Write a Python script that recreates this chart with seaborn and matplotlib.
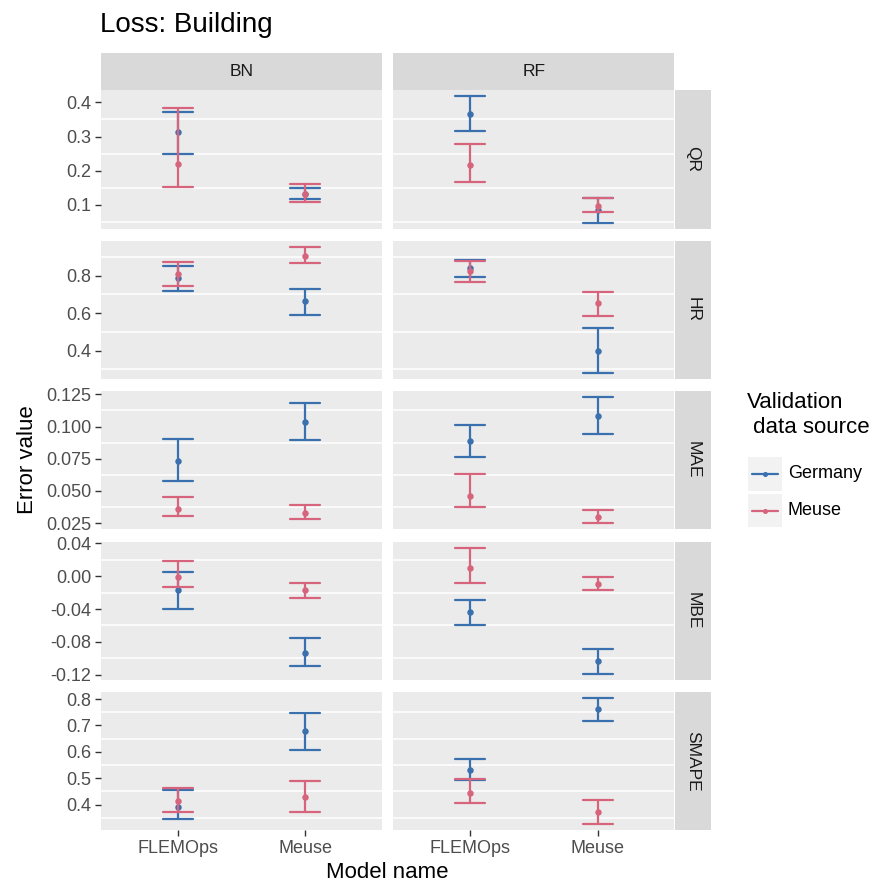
import numpy as np
import pandas as pd
import matplotlib
matplotlib.use("Agg")
import matplotlib.pyplot as plt
from matplotlib.patches import Rectangle
from matplotlib.lines import Line2D
import seaborn as sns

# ---------------- data ----------------
metrics = ["QR", "HR", "MAE", "MBE", "SMAPE"]
models = ["BN", "RF"]
model_names = ["FLEMOps", "Meuse"]
sources = ["Germany", "Meuse"]

# each row: [BN-FLEMOps, BN-Meuse, RF-FLEMOps, RF-Meuse]
germany_mid = [
    [0.312, 0.130, 0.365, 0.083],
    [0.786, 0.666, 0.841, 0.397],
    [0.0732, 0.1039, 0.0884, 0.1084],
    [-0.017, -0.0935, -0.0433, -0.104],
    [0.391, 0.678, 0.531, 0.762],
]
germany_low = [
    [0.250, 0.117, 0.316, 0.047],
    [0.718, 0.592, 0.793, 0.282],
    [0.0573, 0.0892, 0.0763, 0.0940],
    [-0.040, -0.110, -0.060, -0.119],
    [0.345, 0.606, 0.4925, 0.717],
]
germany_high = [
    [0.371, 0.150, 0.418, 0.119],
    [0.850, 0.730, 0.881, 0.520],
    [0.0905, 0.1183, 0.1013, 0.1230],
    [0.0049, -0.0757, -0.0287, -0.0887],
    [0.4566, 0.746, 0.574, 0.804],
]
meuse_mid = [
    [0.220, 0.130, 0.215, 0.096],
    [0.807, 0.902, 0.823, 0.655],
    [0.036, 0.033, 0.0462, 0.0293],
    [-0.0012, -0.017, 0.0097, -0.0093],
    [0.414, 0.431, 0.446, 0.3725],
]
meuse_low = [
    [0.151, 0.108, 0.165, 0.079],
    [0.743, 0.864, 0.767, 0.582],
    [0.0307, 0.028, 0.0372, 0.025],
    [-0.0129, -0.0262, -0.008, -0.017],
    [0.3725, 0.3725, 0.4065, 0.328],
]
meuse_high = [
    [0.383, 0.161, 0.277, 0.119],
    [0.874, 0.952, 0.876, 0.713],
    [0.0454, 0.039, 0.0634, 0.0348],
    [0.0182, -0.008, 0.0345, -0.0012],
    [0.465, 0.491, 0.499, 0.419],
]

ytick_values = [
    [0.1, 0.2, 0.3, 0.4],
    [0.4, 0.6, 0.8],
    [0.025, 0.050, 0.075, 0.100, 0.125],
    [-0.12, -0.08, -0.04, 0.00, 0.04],
    [0.4, 0.5, 0.6, 0.7, 0.8],
]
ytick_labels = [
    ["0.1", "0.2", "0.3", "0.4"],
    ["0.4", "0.6", "0.8"],
    ["0.025", "0.050", "0.075", "0.100", "0.125"],
    ["-0.12", "-0.08", "-0.04", "0.00", "0.04"],
    ["0.4", "0.5", "0.6", "0.7", "0.8"],
]

title = "Loss: Building"
xlabel = "Model name"
ylabel = "Error value"
legend_title = "Validation\n data source"
palette = {"Germany": "#3A70AE", "Meuse": "#D6647D"}

# build long table (low / mid / high rows -> median & full range)
rows = []
series = {"Germany": (germany_low, germany_mid, germany_high),
          "Meuse": (meuse_low, meuse_mid, meuse_high)}
for src, arrs in series.items():
    for mi, met in enumerate(metrics):
        for ci, mod in enumerate(models):
            for ni, nm in enumerate(model_names):
                k = ci * 2 + ni
                for arr in arrs:
                    rows.append(dict(metric=met, model=mod, name=nm,
                                     source=src, value=arr[mi][k]))
df = pd.DataFrame(rows)

# ---------------- layout ----------------
W, H = 879, 884
sns.set_theme(style="white")
plt.rcParams["font.family"] = ["Liberation Sans", "DejaVu Sans"]

fig = plt.figure(figsize=(W / 100, H / 100), dpi=100)

def fx(p):
    return p / W

def fy(p):
    return 1 - p / H

col_x = [(101, 381.7), (393.3, 674.3)]
row_y = [(90, 229), (240.7, 379), (390.7, 529.3), (541.7, 680), (691.7, 830)]
strip_top = (53, 90)
strip_right = (675, 711)
TXT = "#4D4D4D"
MS = 2.6

for ri, met in enumerate(metrics):
    sub_m = df[df.metric == met]
    lo, hi = sub_m.value.min(), sub_m.value.max()
    pad = (hi - lo) * 0.05
    ylim = (lo - pad, hi + pad)
    ticks = ytick_values[ri]
    step = ticks[1] - ticks[0]
    minor = [t - step / 2 for t in ticks] + [ticks[-1] + step / 2]
    minor = [m for m in minor if ylim[0] <= m <= ylim[1]]
    for ci, mod in enumerate(models):
        x0, x1 = col_x[ci]
        y0, y1 = row_y[ri]
        ax = fig.add_axes([fx(x0), fy(y1), (x1 - x0) / W, (y1 - y0) / H])
        ax.set_facecolor("#EBEBEB")
        sub = sub_m[sub_m.model == mod]
        sns.pointplot(data=sub, x="name", y="value", hue="source",
                      order=model_names, hue_order=sources, palette=palette,
                      estimator="median", errorbar=("pi", 100),
                      capsize=0.235, dodge=False, linestyle="none",
                      markers="o", markersize=MS,
                      err_kws={"linewidth": 1.6}, legend=False, ax=ax)
        ax.set_xlim(-0.6, 1.6)
        ax.set_ylim(*ylim)
        ax.set_yticks(ticks)
        ax.set_yticks(minor, minor=True)
        ax.grid(False)
        ax.grid(True, which="minor", axis="y", color="white", linewidth=1.1)
        ax.set_axisbelow(True)
        for s in ax.spines.values():
            s.set_visible(False)
        ax.set_xlabel("")
        ax.set_ylabel("")
        ax.tick_params(which="minor", length=0)
        if ci == 0:
            ax.set_yticklabels(ytick_labels[ri])
            ax.tick_params(axis="y", which="major", length=4, width=1,
                           color="#333333", labelsize=13, labelcolor=TXT, pad=3, left=True)
        else:
            ax.tick_params(axis="y", which="major", length=0, labelleft=False)
        if ri == len(metrics) - 1:
            ax.set_xticks([0, 1])
            ax.set_xticklabels(model_names)
            ax.tick_params(axis="x", which="major", length=4, width=1,
                           color="#333333", labelsize=13, labelcolor=TXT, pad=3, bottom=True)
        else:
            ax.tick_params(axis="x", length=0, labelbottom=False)

# strips
for ci, mod in enumerate(models):
    x0, x1 = col_x[ci]
    fig.add_artist(Rectangle((fx(x0), fy(strip_top[1])), (x1 - x0) / W,
                             (strip_top[1] - strip_top[0]) / H,
                             transform=fig.transFigure, facecolor="#D9D9D9",
                             edgecolor="none"))
    fig.text(fx((x0 + x1) / 2), fy((strip_top[0] + strip_top[1]) / 2), mod,
             ha="center", va="center", fontsize=12.5, color="#1A1A1A")
for ri, met in enumerate(metrics):
    y0, y1 = row_y[ri]
    fig.add_artist(Rectangle((fx(strip_right[0]), fy(y1)),
                             (strip_right[1] - strip_right[0]) / W, (y1 - y0) / H,
                             transform=fig.transFigure, facecolor="#D9D9D9",
                             edgecolor="none"))
    fig.text(fx((strip_right[0] + strip_right[1]) / 2), fy((y0 + y1) / 2), met,
             ha="center", va="center", rotation=-90, fontsize=12.5, color="#1A1A1A")

# titles
fig.text(fx(100), fy(25), title, ha="left", va="center", fontsize=20, color="black")
fig.text(fx(387.7), fy(873), xlabel, ha="center", va="center", fontsize=16, color="black")
fig.text(fx(28), fy(460), ylabel, ha="center", va="center", rotation=90,
         fontsize=16, color="black")

# legend
fig.text(fx(747), fy(415), legend_title, ha="left", va="center", fontsize=16,
         color="black", linespacing=1.2)
key_y = [(457, 491), (494, 527)]
for src, (ky0, ky1) in zip(sources, key_y):
    kax = fig.add_axes([fx(748), fy(ky1), 34 / W, (ky1 - ky0) / H])
    kax.set_facecolor("#F2F2F2")
    kax.set_xlim(0, 1)
    kax.set_ylim(0, 1)
    kax.add_line(Line2D([0.12, 0.88], [0.5, 0.5], color=palette[src], linewidth=1.6))
    kax.plot([0.5], [0.5], "o", color=palette[src], markersize=MS)
    kax.set_xticks([])
    kax.set_yticks([])
    for s in kax.spines.values():
        s.set_visible(False)
    fig.text(fx(788), fy((ky0 + ky1) / 2), src, ha="left", va="center",
             fontsize=13, color="black")

fig.savefig("out.png", dpi=100)
